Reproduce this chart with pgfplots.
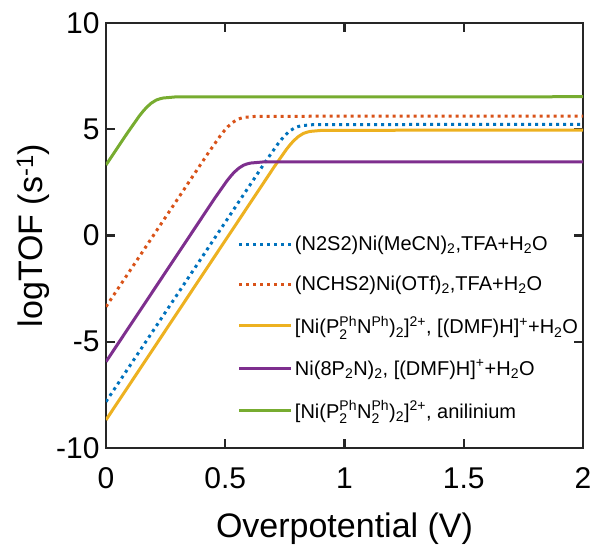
\documentclass[border=0pt]{standalone}
\usepackage{pgfplots}
\pgfplotsset{compat=1.18}
\usepackage{amsmath}
\usepackage{fontspec}
\setmainfont{Liberation Sans}
\definecolor{mblue}{rgb}{0,0.447,0.741}
\definecolor{morange}{rgb}{0.85,0.325,0.098}
\definecolor{myellow}{rgb}{0.929,0.694,0.125}
\definecolor{mpurple}{rgb}{0.494,0.184,0.556}
\definecolor{mgreen}{rgb}{0.466,0.674,0.188}
\definecolor{axgray}{rgb}{0.15,0.15,0.15}
\newcommand{\su}[2]{$^{\text{#1}}_{\text{#2}}$}
\newcommand{\up}[1]{$^{\text{#1}}$}
\newcommand{\dn}[1]{$_{\text{#1}}$}
\begin{document}
\begin{tikzpicture}
\begin{axis}[
  scale only axis, width=477pt, height=425pt,
  xmin=0, xmax=2, ymin=-10, ymax=10,
  xtick={0,0.5,1,1.5,2}, ytick={-10,-5,0,5,10},
  /pgf/number format/assume math mode=true,
  tick align=inside, major tick length=9pt,
  axis line style={line width=2.2pt, color=axgray},
  tick style={line width=2.2pt, color=axgray},
  ticklabel style={font=\fontsize{30}{30}\selectfont, text=black},
  xticklabel style={yshift=-16pt},
  yticklabel style={xshift=-3pt},
  xlabel={Overpotential (V)},
  ylabel={logTOF (s\textsuperscript{-1})},
  label style={font=\fontsize{34}{34}\selectfont},
  xlabel style={yshift=-17pt},
  legend cell align=left,
  legend style={draw=none, fill=none, at={(rel axis cs:0.27,0.508)}, anchor=north west,
    font=\fontsize{20}{22}\selectfont, row sep=20pt},
  legend image code/.code={\draw[#1] (0pt,0pt) -- (52pt,0pt);},
]
\addplot[color=mblue, line width=3pt, dash pattern=on 3pt off 4pt] coordinates {
(0,-7.82) (0.672,3.53) (0.722,4.33) (0.737,4.54) (0.752,4.73) (0.772,4.93) (0.792,5.07) (0.807,5.13) (0.822,5.17) (0.872,5.22) (2,5.23)};
\addlegendentry{(N2S2)Ni(MeCN)\dn{2},TFA+H\dn{2}O}
\addplot[color=morange, line width=3pt, dash pattern=on 3pt off 4pt] coordinates {
(0,-3.35) (0.431,3.92) (0.481,4.72) (0.496,4.93) (0.511,5.12) (0.531,5.32) (0.551,5.46) (0.566,5.52) (0.581,5.56) (0.631,5.61) (2,5.62)};
\addlegendentry{(NCHS2)Ni(OTf)\dn{2},TFA+H\dn{2}O}
\addplot[color=myellow, line width=3pt] coordinates {
(0,-8.68) (0.707,3.26) (0.757,4.06) (0.772,4.27) (0.787,4.46) (0.807,4.66) (0.827,4.80) (0.842,4.86) (0.857,4.90) (0.907,4.95) (2,4.96)};
\addlegendentry{[Ni(P\su{Ph}{2}N\up{Ph})\dn{2}]\up{2+}, [(DMF)H]\up{+}+H\dn{2}O}
\addplot[color=mpurple, line width=3pt] coordinates {
(0,-5.94) (0.457,1.77) (0.507,2.57) (0.522,2.78) (0.537,2.97) (0.557,3.17) (0.577,3.31) (0.592,3.37) (0.607,3.41) (0.657,3.46) (2,3.47)};
\addlegendentry{Ni(8P\dn{2}N)\dn{2}, [(DMF)H]\up{+}+H\dn{2}O}
\addplot[color=mgreen, line width=3pt] coordinates {
(0,3.32) (0.09,4.83) (0.14,5.63) (0.155,5.84) (0.17,6.03) (0.19,6.23) (0.21,6.37) (0.225,6.43) (0.24,6.47) (0.29,6.52) (2,6.53)};
\addlegendentry{[Ni(P\su{Ph}{2}N\su{Ph}{2})\dn{2}]\up{2+}, anilinium}
\end{axis}
\pgfresetboundingbox
\path[use as bounding box] (-106pt,-98pt) rectangle (485pt,448pt);
\end{tikzpicture}
\end{document}
